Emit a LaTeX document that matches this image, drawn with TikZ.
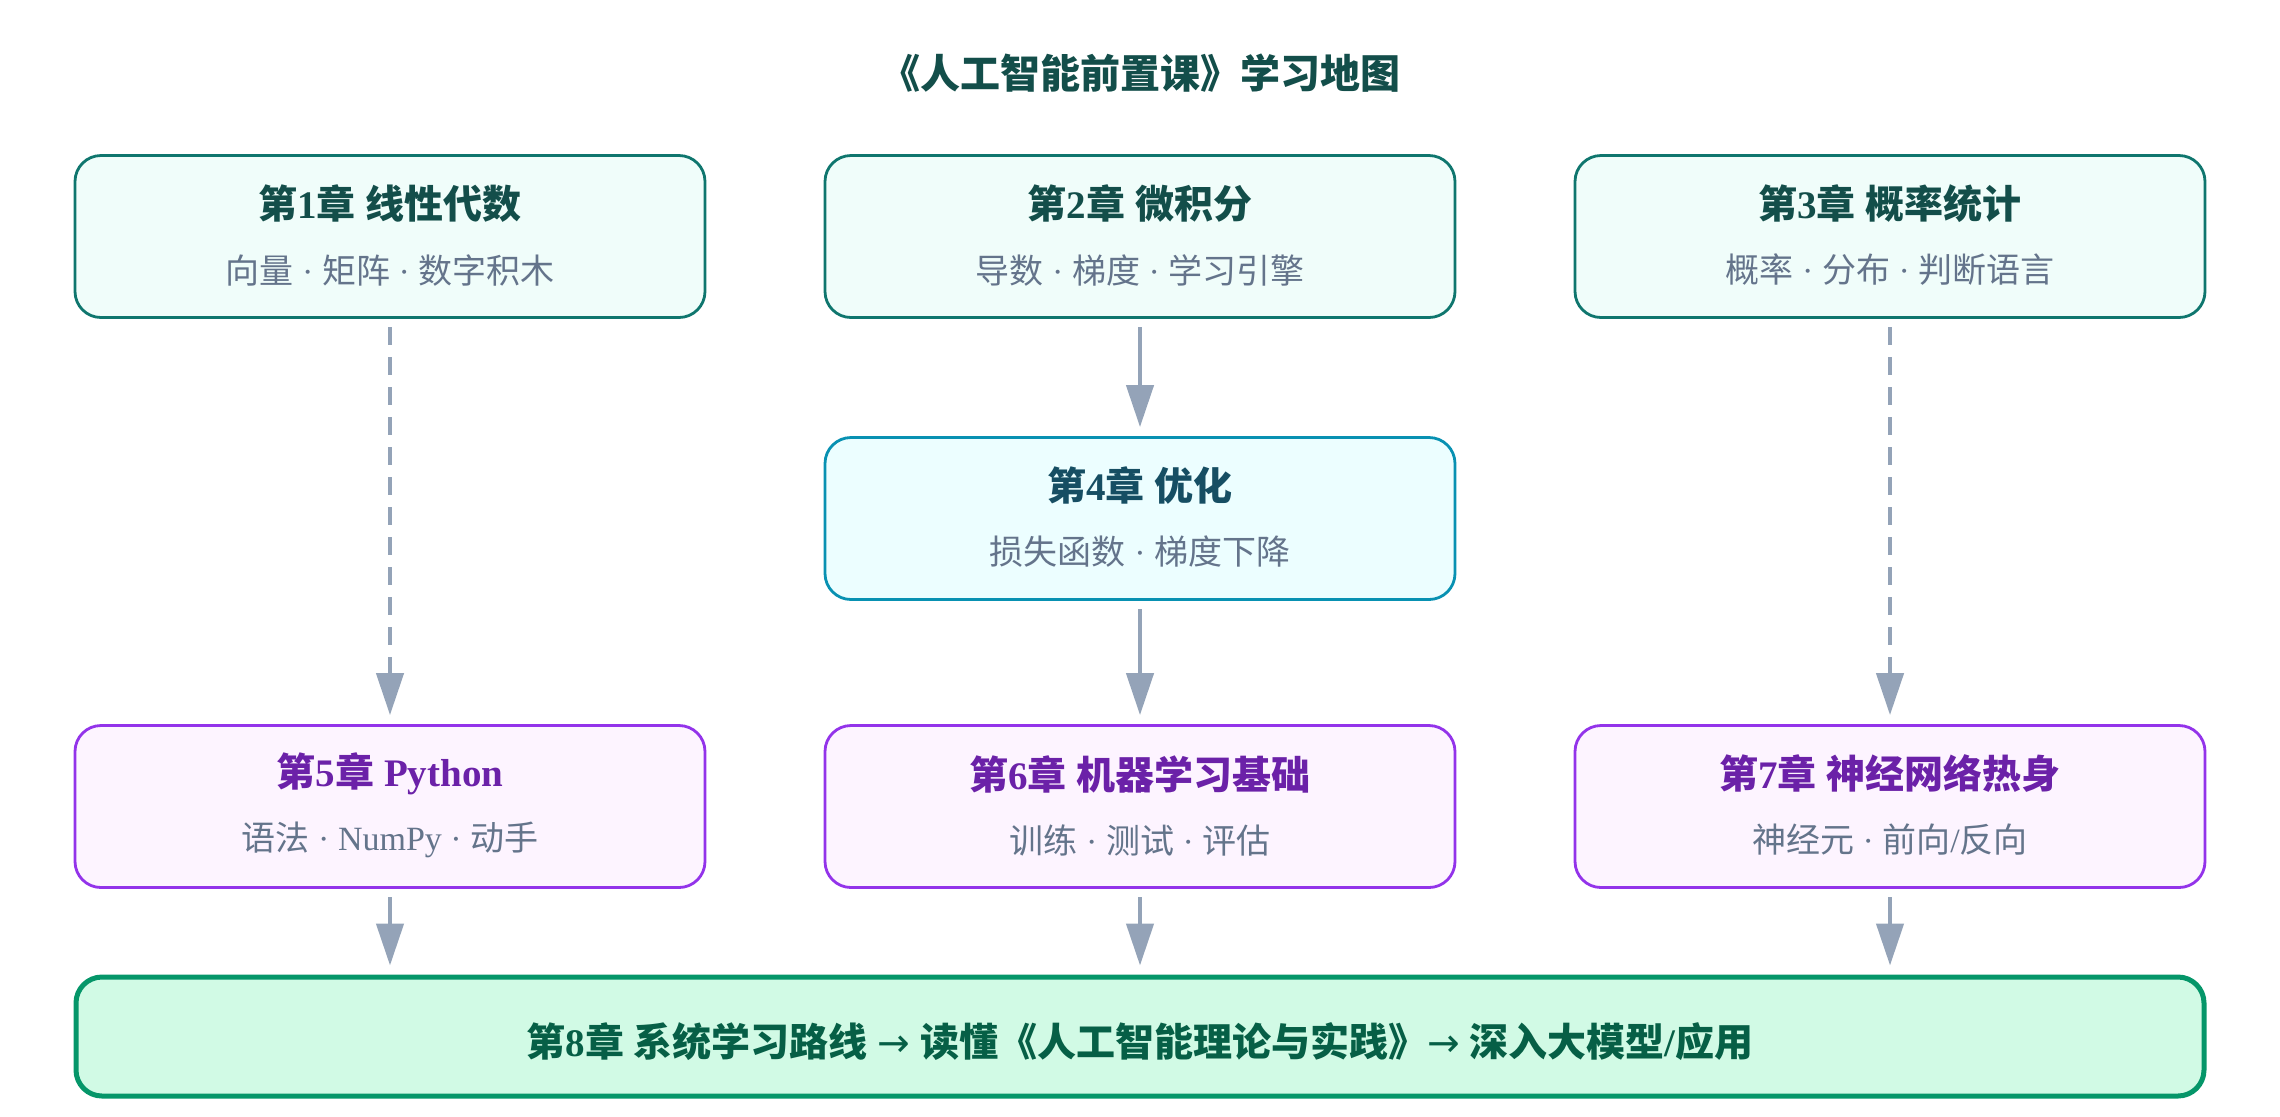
\documentclass[tikz,border=0pt]{standalone}
\usepackage{fontspec}
\setmainfont{Liberation Serif}
\newfontfamily\cjk{Noto Sans CJK SC}
\newfontfamily\symb{DejaVu Sans}
\usetikzlibrary{arrows.meta}

\definecolor{mathline}{HTML}{0F766E}
\definecolor{mathfill}{HTML}{F0FDFA}
\definecolor{mathtext}{HTML}{134E4A}
\definecolor{optline}{HTML}{0891B2}
\definecolor{optfill}{HTML}{ECFEFF}
\definecolor{opttext}{HTML}{164E63}
\definecolor{codeline}{HTML}{9333EA}
\definecolor{codefill}{HTML}{FDF4FF}
\definecolor{codetext}{HTML}{6B21A8}
\definecolor{finalline}{HTML}{059669}
\definecolor{finalfill}{HTML}{D1FAE5}
\definecolor{finaltext}{HTML}{065F46}
\definecolor{subgray}{HTML}{64748B}
\definecolor{arrowgray}{HTML}{94A3B8}

\newcommand{\zh}[1]{{\cjk #1}}
\newcommand{\toarrow}{{\symb\mdseries →}}

\tikzset{
    chapbox/.style={draw, rounded corners=13pt, line width=1.4pt,
      minimum width=315pt, minimum height=81pt},
    mathbox/.style={chapbox, draw=mathline, fill=mathfill},
    optbox/.style={chapbox, draw=optline, fill=optfill},
    codebox/.style={chapbox, draw=codeline, fill=codefill},
    finalbox/.style={chapbox, draw=finalline, fill=finalfill, line width=2.5pt,
      minimum width=1064pt, minimum height=59.5pt},
    headtext/.style={inner sep=0pt, font=\bfseries\fontsize{19.5}{23}\selectfont},
    subtext/.style={inner sep=0pt, text=subgray, font=\fontsize{17}{20}\selectfont},
    flow/.style={draw=arrowgray, line width=2.2pt,
      -{Triangle[length=21pt,width=13.5pt]}, shorten <=4.2pt, shorten >=4.5pt},
    hint/.style={flow, dash pattern=on 9pt off 6pt},
}

\begin{document}
\begin{tikzpicture}[x=0.5pt, y=-0.5pt]
    \useasboundingbox (0, 0) rectangle (2280, 1116);

    \node[headtext, text=mathtext, font=\bfseries\fontsize{20}{24}\selectfont] (title) at (1140, 73)
    {\zh{《人工智能前置课》学习地图}};

    \node[mathbox] (c1) at (390, 236.5) {};
    \node[mathbox] (c2) at (1140, 236.5) {};
    \node[mathbox] (c3) at (1890, 236.5) {};
    \node[optbox] (c4) at (1140, 518.5) {};
    \node[codebox] (c5) at (390, 806.5) {};
    \node[codebox] (c6) at (1140, 806.5) {};
    \node[codebox] (c7) at (1890, 806.5) {};
    \node[finalbox] (c8) at (1140, 1036.5) {};

    \node[headtext, text=mathtext] (c1t) at (390, 204) {\zh{第}1\zh{章} \zh{线性代数}};
    \node[subtext] (c1s) at (390, 270) {\zh{向量} · \zh{矩阵} · \zh{数字积木}};
    \node[headtext, text=mathtext] (c2t) at (1140, 204) {\zh{第}2\zh{章} \zh{微积分}};
    \node[subtext] (c2s) at (1140, 270) {\zh{导数} · \zh{梯度} · \zh{学习引擎}};
    \node[headtext, text=mathtext] (c3t) at (1890, 204) {\zh{第}3\zh{章} \zh{概率统计}};
    \node[subtext] (c3s) at (1890, 270) {\zh{概率} · \zh{分布} · \zh{判断语言}};

    \node[headtext, text=opttext] (c4t) at (1140, 486) {\zh{第}4\zh{章} \zh{优化}};
    \node[subtext] (c4s) at (1140, 552) {\zh{损失函数} · \zh{梯度下降}};

    \node[headtext, text=codetext] (c5t) at (390, 774) {\zh{第}5\zh{章} Python};
    \node[subtext] (c5s) at (390, 840) {\zh{语法} · NumPy · \zh{动手}};
    \node[headtext, text=codetext] (c6t) at (1140, 774) {\zh{第}6\zh{章} \zh{机器学习基础}};
    \node[subtext] (c6s) at (1140, 840) {\zh{训练} · \zh{测试} · \zh{评估}};
    \node[headtext, text=codetext] (c7t) at (1890, 774) {\zh{第}7\zh{章} \zh{神经网络热身}};
    \node[subtext] (c7s) at (1890, 840) {\zh{神经元} · \zh{前向}/\zh{反向}};

    \node[headtext, text=finaltext] (c8t) at (1140, 1042)
    {\zh{第}8\zh{章} \zh{系统学习路线} \toarrow{} \zh{读懂《人工智能理论与实践》}\toarrow{} \zh{深入大模型}/\zh{应用}};

    \draw[hint] (c1) -- (c5);
    \draw[flow] (c2) -- (c4);
    \draw[hint] (c3) -- (c7);
    \draw[flow] (c4) -- (c6);
    \draw[flow] (c5) -- (c5 |- c8.north);
    \draw[flow] (c6) -- (c8);
    \draw[flow] (c7) -- (c7 |- c8.north);
\end{tikzpicture}
\end{document}
